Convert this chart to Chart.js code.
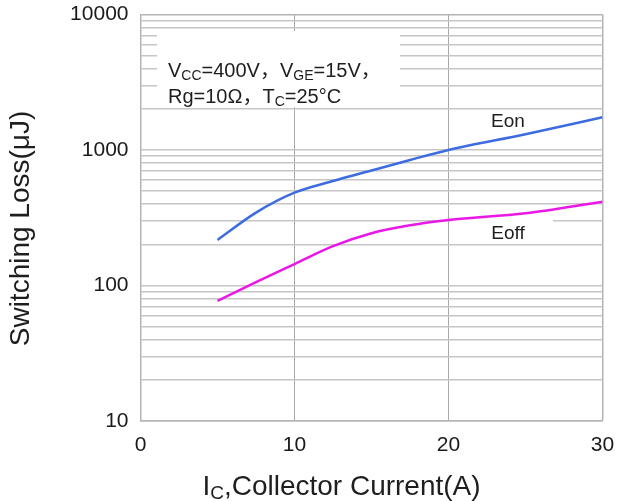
<!DOCTYPE html>
<html>
<head>
<meta charset="utf-8">
<script src="https://cdn.jsdelivr.net/npm/chart.js@4"></script>
<style>
html,body{margin:0;padding:0;background:#fff;}
#c{display:block;}
</style>
</head>
<body>
<canvas id="c" width="617" height="501"></canvas>
<script>
// ---- data ----
const current = [5, 7.5, 10, 12.5, 15, 17.5, 20, 25, 30];
const eon     = [217, 345, 484, 590, 705, 844, 1000, 1306, 1742];
const eoff    = [77, 106, 144, 195, 243, 278, 304, 341, 415];
const xTicks  = [0, 10, 20, 30];
const yDecades = [10, 100, 1000, 10000];

const FONT = '"Liberation Sans", Arial, "Noto Sans CJK SC", sans-serif';

function minorTicks() {
  const t = [];
  for (let d = 0; d < yDecades.length - 1; d++) {
    for (let m = 1; m < 10; m++) t.push(yDecades[d] * m);
  }
  t.push(yDecades[yDecades.length - 1]);
  return t;
}

function drawRich(ctx, segs, x, y, size, align) {
  let total = 0;
  const parts = segs.map(s => {
    const fs = s.sub ? Math.round(size * 0.68) : size;
    ctx.font = fs + 'px ' + FONT;
    const w = ctx.measureText(s.t).width;
    total += w;
    return {t: s.t, fs, w, dy: s.sub ? size * 0.16 : 0};
  });
  let cx = align === 'center' ? x - total / 2 : x;
  ctx.textAlign = 'left';
  ctx.textBaseline = 'alphabetic';
  parts.forEach(p => {
    ctx.font = p.fs + 'px ' + FONT;
    ctx.fillText(p.t, cx, y + p.dy);
    cx += p.w;
  });
}

const deco = {
  id: 'deco',
  beforeDatasetsDraw(chart) {
    const ctx = chart.ctx;
    ctx.save();
    ctx.fillStyle = '#ffffff';
    ctx.fillRect(157, 31, 243, 76);
    ctx.fillRect(452, 212, 101, 30);
    ctx.restore();
  },
  afterDraw(chart) {
    const ctx = chart.ctx;
    ctx.save();
    ctx.fillStyle = '#1e1e1e';
    drawRich(ctx, [{t:'V'},{t:'CC',sub:1},{t:'=400V，V'},{t:'GE',sub:1},{t:'=15V，'}], 168, 77, 20, 'left');
    drawRich(ctx, [{t:'Rg=10Ω，T'},{t:'C',sub:1},{t:'=25°C'}], 168, 103, 20, 'left');
    ctx.font = '19px ' + FONT;
    ctx.textAlign = 'center';
    ctx.textBaseline = 'alphabetic';
    ctx.fillText('Eon', 508, 127);
    ctx.fillText('Eoff', 508, 238.5);
    // axis titles
    drawRich(ctx, [{t:'I'},{t:'C',sub:1},{t:',Collector Current(A)'}], 341.5, 495, 28, 'center');
    ctx.translate(21, 228.5);
    ctx.rotate(-Math.PI / 2);
    ctx.font = '28px ' + FONT;
    ctx.textAlign = 'center';
    ctx.textBaseline = 'middle';
    ctx.fillText('Switching Loss(μJ)', 0, 0);
    ctx.restore();
  }
};

new Chart(document.getElementById('c'), {
  type: 'line',
  data: {
    datasets: [
      {
        label: 'Eon',
        data: current.map((x, i) => ({x, y: eon[i]})),
        borderColor: '#3d6be0',
        borderWidth: 2.5,
        pointRadius: 0,
        cubicInterpolationMode: 'monotone',
        fill: false
      },
      {
        label: 'Eoff',
        data: current.map((x, i) => ({x, y: eoff[i]})),
        borderColor: '#ea18e6',
        borderWidth: 2.5,
        pointRadius: 0,
        cubicInterpolationMode: 'monotone',
        fill: false
      }
    ]
  },
  options: {
    responsive: false,
    animation: false,
    layout: {padding: {top: 14.5, right: 14.5, left: 0, bottom: 0}},
    plugins: {legend: {display: false}, tooltip: {enabled: false}},
    scales: {
      x: {
        type: 'linear',
        min: xTicks[0],
        max: xTicks[xTicks.length - 1],
        afterBuildTicks(s) { s.ticks = xTicks.map(v => ({value: v})); },
        afterFit(s) { s.height = 80; s.paddingLeft = 0; s.paddingRight = 0; },
        ticks: {
          font: {family: FONT, size: 21},
          color: '#1a1a1a',
          padding: 12,
          maxRotation: 0
        },
        grid: {
          drawTicks: false,
          color: ctx => ctx.tick && ctx.tick.value === 30 ? '#b4b4b4' : '#a8a8a8',
          lineWidth: ctx => ctx.tick && ctx.tick.value === 30 ? 1.5 : 1
        },
        border: {display: true, color: '#b4b4b4', width: 1.5}
      },
      y: {
        type: 'logarithmic',
        min: yDecades[0],
        max: yDecades[yDecades.length - 1],
        afterBuildTicks(s) { s.ticks = minorTicks().map(v => ({value: v})); },
        afterFit(s) { s.width = 140.5; s.paddingTop = 0; s.paddingBottom = 0; },
        ticks: {
          font: {family: FONT, size: 21},
          color: '#1a1a1a',
          padding: 12,
          autoSkip: false,
          callback: v => yDecades.includes(v) ? String(v) : ''
        },
        grid: {
          drawTicks: false,
          color: ctx => ctx.tick && ctx.tick.value === 10000 ? '#b4b4b4' : '#c6c6c6',
          lineWidth: 1.5
        },
        border: {display: true, color: '#b4b4b4', width: 1.5}
      }
    }
  },
  plugins: [deco]
});
</script>
</body>
</html>
